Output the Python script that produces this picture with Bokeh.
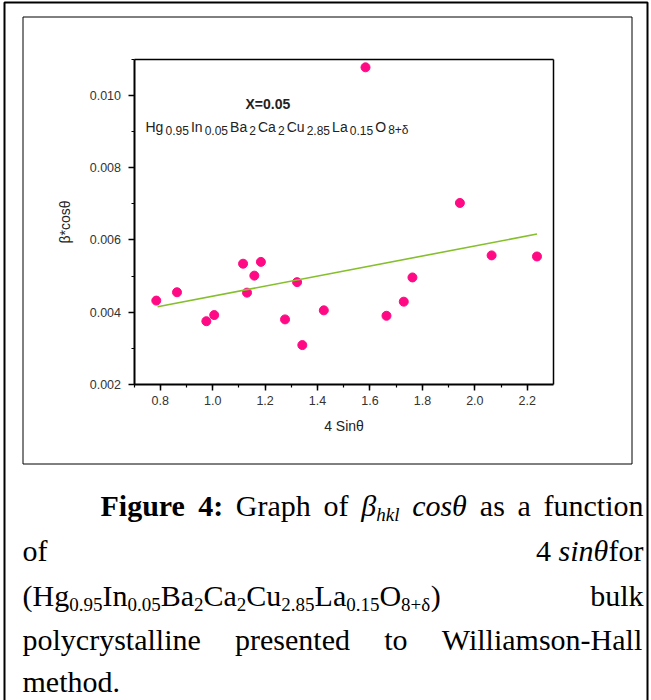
from bokeh.plotting import figure
from bokeh.models import (Label, BoxAnnotation, SingleIntervalTicker, FixedTicker,
                          PrintfTickFormatter, LinearAxis, Range1d)
from bokeh.embed import file_html
from bokeh.resources import INLINE

# ---------------- data ----------------
x_vals = [0.785, 0.864, 0.976, 1.006, 1.116, 1.131, 1.159, 1.184, 1.276, 1.322,
          1.342, 1.424, 1.583, 1.663, 1.729, 1.762, 1.943, 2.064, 2.237]
y_vals = [0.00432, 0.00455, 0.00375, 0.00392, 0.00534, 0.00454, 0.00501, 0.00539,
          0.00380, 0.00483, 0.00309, 0.00405, 0.01077, 0.00390, 0.00429, 0.00496,
          0.00702, 0.00557, 0.00554]
fit_x = [0.790, 2.237]
fit_y = [0.00415, 0.00616]

x_title = "4 Sinθ"
y_title = "β*cosθ"
note_title = "X=0.05"
formula_parts = [("Hg", 0), ("0.95", 1), ("In", 0), ("0.05", 1), ("Ba", 0), ("2", 1),
                 ("Ca", 0), ("2", 1), ("Cu", 0), ("2.85", 1), ("La", 0), ("0.15", 1),
                 ("O", 0), ("8+δ", 1)]
X0, X1 = 0.7, 2.3
Y0, Y1 = 0.002, 0.011

# ---------------- geometry (pixels) ----------------
W, H = 651, 700
PX_L, PX_R, PX_T, PX_B = 133.5, 553.0, 58.5, 384.0
kx = (X1 - X0) / (PX_R - PX_L)
ky = (Y1 - Y0) / (PX_B - PX_T)

p = figure(width=W, height=H, title=None,
           x_range=Range1d(X0 - PX_L * kx, X1 + (W - PX_R) * kx),
           y_range=Range1d(Y0 - (H - PX_B) * ky, Y1 + PX_T * ky),
           x_axis_type=None, y_axis_type=None,
           output_backend="svg", toolbar_location=None,
           min_border=0, min_border_left=0, min_border_right=0,
           min_border_top=0, min_border_bottom=0)
p.grid.visible = False
p.background_fill_color = "white"
p.border_fill_color = "white"
p.outline_line_color = None

AX_FONT = "Liberation Sans"


def style_axis(ax):
    ax.axis_line_width = 2
    ax.axis_line_color = "black"
    ax.major_tick_in = 0
    ax.major_tick_out = 6
    ax.minor_tick_in = 0
    ax.minor_tick_out = 3
    ax.major_tick_line_width = 1.5
    ax.minor_tick_line_width = 1.2
    ax.major_label_text_font = AX_FONT
    ax.major_label_text_font_size = "12.5px"
    ax.major_label_text_color = "#333333"
    ax.axis_label_text_font = AX_FONT
    ax.axis_label_text_font_size = "14px"
    ax.axis_label_text_font_style = "normal"
    ax.axis_label_text_color = "#222222"


xa = LinearAxis(fixed_location=Y0, bounds=(X0, X1),
                ticker=SingleIntervalTicker(interval=0.2, num_minor_ticks=2),
                formatter=PrintfTickFormatter(format="%.1f"), axis_label=x_title)
style_axis(xa)
xa.major_label_standoff = 5
xa.axis_label_standoff = 10
p.add_layout(xa, "below")

ya = LinearAxis(fixed_location=X0, bounds=(Y0, Y1),
                ticker=SingleIntervalTicker(interval=0.002, num_minor_ticks=2),
                formatter=PrintfTickFormatter(format="%.3f"), axis_label=y_title)
style_axis(ya)
ya.major_label_standoff = 7
ya.axis_label_standoff = 14
p.add_layout(ya, "left")

for loc, bnd, side in ((Y1, (X0, X1), "above"), (X1, (Y0, Y1), "right")):
    fa = LinearAxis(fixed_location=loc, bounds=bnd, ticker=FixedTicker(ticks=[]))
    fa.axis_line_width = 1.5
    fa.major_tick_out = 0
    fa.minor_tick_out = 0
    p.add_layout(fa, side)

p.scatter(x_vals, y_vals, size=9, fill_color="#FF0A84", line_color="#FF0A84")
p.line(fit_x, fit_y, line_color="#86BF2C", line_width=1.6)


def lab(x, y, text, font, size, style="normal", color="black", align="left"):
    p.add_layout(Label(x=x, y=y, x_units="canvas", y_units="canvas", text=text,
                       text_font=font, text_font_size=f"{size}px",
                       text_font_style=style, text_color=color,
                       text_align=align, text_baseline="middle"))


# in-plot annotation
lab(245, 103, note_title, AX_FONT, 14, "bold", "#222222")
ARIAL = {"H": 722, "g": 556, "I": 278, "n": 556, "B": 667, "a": 556, "C": 722,
         "u": 556, "L": 556, "O": 778, ".": 278, "+": 584, "δ": 556}
MS, SBS = 14, 12
runs_w = [sum(ARIAL.get(c, 556) for c in t) * (SBS if s else MS) / 1000.0
          for t, s in formula_parts]
f_left, f_right = 145, 408
f_gap = (f_right - f_left - sum(runs_w)) / (len(formula_parts) - 1)
fx = f_left
for (txt, sub), rw in zip(formula_parts, runs_w):
    if sub:
        lab(fx, 129.5, txt, AX_FONT, SBS, color="#222222")
    else:
        lab(fx, 126, txt, AX_FONT, MS, color="#222222")
    fx += rw + f_gap

# boxes
p.add_layout(BoxAnnotation(left=22.5, right=631.5, top=16.5, bottom=463.5,
                           left_units="canvas", right_units="canvas",
                           top_units="canvas", bottom_units="canvas",
                           fill_alpha=0, line_color="black", line_alpha=1,
                           line_width=1))
p.add_layout(BoxAnnotation(left=4, right=647, top=2, bottom=730,
                           left_units="canvas", right_units="canvas",
                           top_units="canvas", bottom_units="canvas",
                           fill_alpha=0, line_color="black", line_alpha=1,
                           line_width=2))

# ---------------- caption ----------------
CAP = "Liberation Serif"
REG = dict(zip(" ()+,-.:", [250, 333, 333, 564, 250, 333, 250, 278]))
REG.update({d: 500 for d in "0123456789"})
REG.update(dict(zip("ABCDEFGHIJKLMNOPQRSTUVWXYZ",
                    [722, 667, 667, 722, 611, 556, 722, 722, 333, 389, 722, 611, 889,
                     722, 722, 556, 722, 667, 556, 611, 722, 722, 944, 722, 722, 611])))
REG.update(dict(zip("abcdefghijklmnopqrstuvwxyz",
                    [444, 500, 444, 500, 444, 333, 500, 500, 278, 278, 500, 278, 778,
                     500, 500, 500, 500, 333, 389, 278, 500, 500, 722, 500, 500, 444])))
BOLD = dict(REG)
BOLD.update({"F": 611, "u": 556, "r": 444, ":": 333})
ITAL = dict(REG)
ITAL.update({"k": 444, "θ": 500, "β": 500})
TABLES = {"normal": REG, "bold": BOLD, "italic": ITAL}
FS, SS, SD = 30, 19, 9


def tw(run):
    txt, style, size, dy = run
    return sum(TABLES[style].get(c, 500) for c in txt) * size / 1000.0


def R(txt, style="normal", sub=False):
    return (txt, style, SS if sub else FS, SD if sub else 0)


def place_line(words, left, right, mid, justify=True):
    widths = [sum(tw(r) for r in w) for w in words]
    if justify and len(words) > 1:
        gap = (right - left - sum(widths)) / (len(words) - 1)
    else:
        gap = REG[" "] * FS / 1000.0
    x = left
    for w, ww in zip(words, widths):
        xx = x
        for r in w:
            txt, style, size, dy = r
            lab(xx, mid + dy, txt, CAP, size, style)
            xx += tw(r)
        x += ww + gap


L, RT = 22, 643
line1 = [[R("Figure", "bold")], [R("4:", "bold")], [R("Graph")], [R("of")],
         [R("β", "italic"), R("hkl", "italic", True)], [R("cosθ", "italic")],
         [R("as")], [R("a")], [R("function")]]
line2 = [[R("of")], [R("4 "), R("sinθ", "italic"), R("for")]]
chem = [R("(Hg"), R("0.95", sub=True), R("In"), R("0.05", sub=True), R("Ba"),
        R("2", sub=True), R("Ca"), R("2", sub=True), R("Cu"), R("2.85", sub=True),
        R("La"), R("0.15", sub=True), R("O"), R("8+δ", sub=True), R(")")]
line3 = [chem, [R("bulk")]]
line4 = [[R("polycrystalline")], [R("presented")], [R("to")], [R("Williamson-Hall")]]
line5 = [[R("method.")]]

place_line(line1, 100, RT, 505)
place_line(line2, L, RT, 550)
place_line(line3, L, RT, 595)
place_line(line4, L, RT, 639)
place_line(line5, L, RT, 681, justify=False)

open("out.html", "w").write(file_html(p, INLINE))
